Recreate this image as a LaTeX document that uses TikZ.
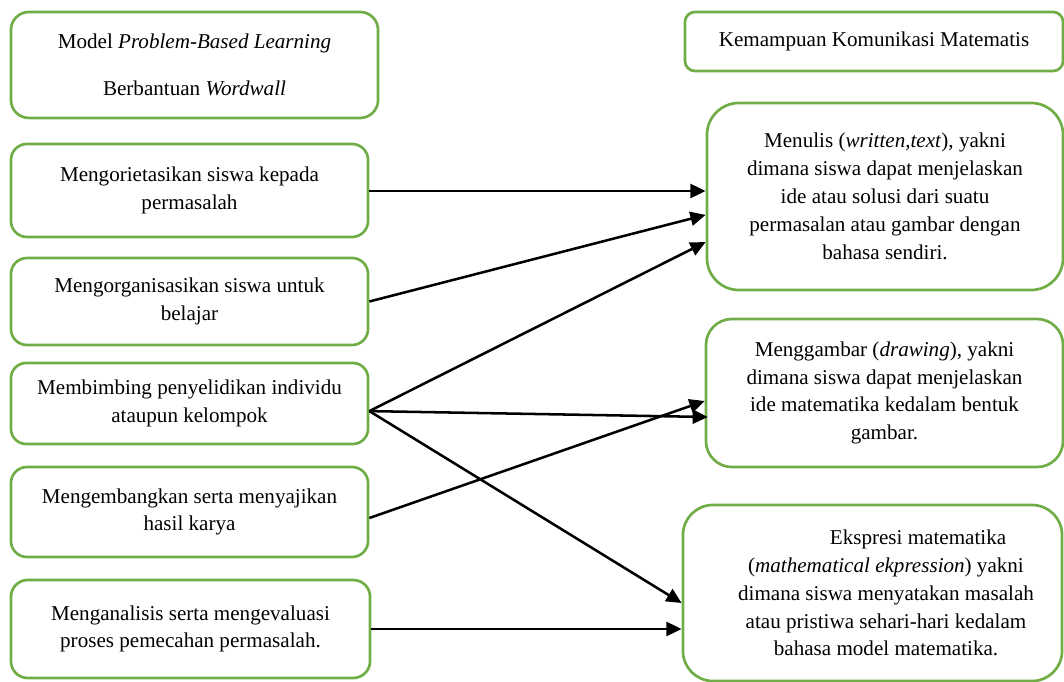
\documentclass[tikz,border=0pt]{standalone}
\usepackage{fontspec}
\setmainfont{Liberation Serif}
\usetikzlibrary{arrows.meta}
\definecolor{hijau}{HTML}{70AD47}

\begin{document}
\begin{tikzpicture}[x=0.025cm,y=-0.025cm]
    \useasboundingbox (0,0) rectangle (1064,682);

    \begin{scope}[every node/.style={draw=hijau,line width=1.9pt,align=center,inner sep=0pt,
        font=\fontsize{15}{19.8}\selectfont}]
      \node[minimum width=9.175cm,minimum height=2.65cm,rounded corners=0.45cm] (pbl) at (194.5,65)
        {Model \textit{Problem-Based Learning}\\[14pt]Berbantuan \textit{Wordwall}};
      \node[minimum width=8.925cm,minimum height=2.325cm,rounded corners=0.4cm] (s1) at (189.5,190.5)
        {Mengorietasikan siswa kepada\\permasalah};
      \node[minimum width=8.925cm,minimum height=2.175cm,rounded corners=0.4cm] (s2) at (189.5,301.5)
        {Mengorganisasikan siswa untuk\\belajar};
      \node[minimum width=8.925cm,minimum height=2.025cm,rounded corners=0.38cm] (s3) at (189.5,403.5)
        {Membimbing penyelidikan individu\\ataupun kelompok};
      \node[minimum width=8.925cm,minimum height=2.25cm,rounded corners=0.4cm] (s4) at (189.5,512)
        {Mengembangkan serta menyajikan\\hasil karya};
      \node[minimum width=8.975cm,minimum height=2.45cm,rounded corners=0.42cm] (s5) at (190.5,629)
        {Menganalisis serta mengevaluasi\\proses pemecahan permasalah.};

      \node[minimum width=9.45cm,minimum height=1.475cm,rounded corners=0.25cm] (kkm) at (874,41.5)
        {Kemampuan Komunikasi Matematis};
      \node[minimum width=8.9cm,minimum height=4.675cm,rounded corners=0.8cm] (k1) at (885,196.5)
        {Menulis (\textit{written,text}), yakni\\dimana siswa dapat menjelaskan\\ide atau solusi dari suatu\\
         permasalan atau gambar dengan\\bahasa sendiri.};
      \node[minimum width=8.925cm,minimum height=3.7cm,rounded corners=0.65cm] (k2) at (884.5,393)
        {Menggambar (\textit{drawing}), yakni\\dimana siswa dapat menjelaskan\\ide matematika kedalam bentuk\\gambar.};
      \node[minimum width=9.475cm,minimum height=4.4cm,rounded corners=0.75cm] (k3) at (872.5,593) {};
      \node[draw=none] (k3teks) at (886,593)
        {\hspace*{1.6cm}Ekspresi matematika\\(\textit{mathematical ekpression}) yakni\\
         dimana siswa menyatakan masalah\\atau pristiwa sehari-hari kedalam\\bahasa model matematika.};
    \end{scope}

    \begin{scope}[>={Triangle[length=0.38cm,width=0.35cm]},
        every edge/.style={draw=black,line width=1.8pt}]
      \path [->] ([yshift=-0.0125cm]s1.east) edge ([yshift=-0.0125cm]s1.east -| k1.west);
      \path [->] (s2.east) edge ([yshift=-0.46cm]k1.west);
      \path [->] ([yshift=-0.19cm]s3.east) edge ([yshift=-1.14cm]k1.west);
      \path [->] ([yshift=-0.19cm]s3.east) edge ([xshift=0.08cm,yshift=-0.6cm]k2.west);
      \path [->] ([yshift=-0.15cm]s4.east) edge ([yshift=-0.2cm]k2.west);
      \path [->] ([yshift=-0.19cm]s3.east) edge ([yshift=-0.25cm]k3.west);
      \path [->] (s5.east) edge (s5.east -| k3.west);
    \end{scope}
  \end{tikzpicture}
\end{document}
